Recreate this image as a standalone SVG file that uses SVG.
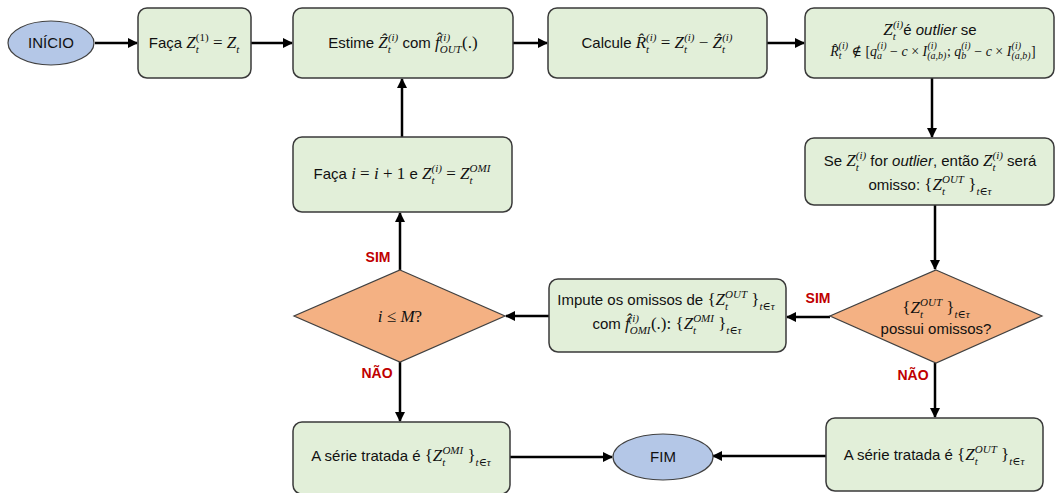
<svg xmlns="http://www.w3.org/2000/svg" width="1059" height="493" viewBox="0 0 1059 493">
<defs>
<marker id="ah" viewBox="0 0 10 10" refX="9" refY="5" markerWidth="4" markerHeight="4" orient="auto" markerUnits="strokeWidth">
<path d="M0,0 L10,5 L0,10 z" fill="#000"/>
</marker>
<style>
.box{fill:#e2efd9;stroke:#3a3a3a;stroke-width:1.5}
.dia{fill:#f4b183;stroke:#404040;stroke-width:1.2}
.ell{fill:#b4c7e7;stroke:#404040;stroke-width:1.2}
.t{font-family:"Liberation Sans",Arial,sans-serif;font-size:15px;fill:#111;text-anchor:middle}
.m{font-family:"Liberation Serif","DejaVu Serif",serif;font-style:italic;font-size:17px}
.r{font-family:"Liberation Serif","DejaVu Serif",serif;font-style:normal;font-size:17px}
.s{font-size:11px}
.i{font-style:italic}
.sm{font-size:14px}
.sm .r{font-size:14px}
.ss{font-size:10px}
.lbl{font-family:"Liberation Sans",Arial,sans-serif;font-weight:bold;font-size:14px;fill:#c00000;text-anchor:middle}
.c{fill:none;stroke:#000;stroke-width:2.5;marker-end:url(#ah)}
</style>
</defs>
<g id="connectors">
<line class="c" x1="95" y1="43" x2="137" y2="43"/>
<line class="c" x1="251" y1="43" x2="292" y2="43"/>
<line class="c" x1="513" y1="43" x2="547" y2="43"/>
<line class="c" x1="767" y1="43" x2="804" y2="43"/>
<line class="c" x1="932" y1="78" x2="932" y2="137"/>
<line class="c" x1="935" y1="205" x2="935" y2="269"/>
<line class="c" x1="830" y1="317" x2="787" y2="317"/>
<line class="c" x1="549" y1="316" x2="506" y2="316"/>
<line class="c" x1="400" y1="270" x2="400" y2="213"/>
<line class="c" x1="402" y1="137" x2="402" y2="79"/>
<line class="c" x1="400" y1="362" x2="400" y2="421"/>
<line class="c" x1="935" y1="363" x2="935" y2="417"/>
<line class="c" x1="826" y1="456" x2="713" y2="456"/>
<line class="c" x1="510" y1="457" x2="612" y2="457"/>
<text class="lbl" x="378" y="262">SIM</text>
<text class="lbl" x="377" y="378">NÃO</text>
<text class="lbl" x="818" y="303">SIM</text>
<text class="lbl" x="913" y="380">NÃO</text>
</g>
<g id="inicio">
<ellipse class="ell" cx="51" cy="43" rx="43" ry="22"/>
<text class="t" x="51" y="48">INÍCIO</text>
</g>
<g id="faca1">
<rect class="box" x="138" y="8" width="113" height="70" rx="9"/>
<text class="t" x="194" y="48">Faça <tspan class="m">Z</tspan><tspan class="m s" dy="5">t</tspan><tspan class="r s" dx="-3" dy="-12">(1)</tspan><tspan class="r" dy="7"> = </tspan><tspan class="m">Z</tspan><tspan class="m s" dy="5">t</tspan></text>
</g>
<g id="estime">
<rect class="box" x="293" y="8" width="220" height="70" rx="9"/>
<text class="t" x="403" y="48">Estime <tspan class="m">Ẑ</tspan><tspan class="m s" dy="5">t</tspan><tspan class="m s" dx="-3" dy="-12">(i)</tspan><tspan dy="7"> com </tspan><tspan class="m">f̂</tspan><tspan class="m s" dy="5">OUT</tspan><tspan class="m s" dx="-22" dy="-12">(i)</tspan><tspan class="r" dx="12" dy="7">(.)</tspan></text>
</g>
<g id="calcule">
<rect class="box" x="548" y="8" width="219" height="70" rx="9"/>
<text class="t" x="657" y="48">Calcule <tspan class="m">R̂</tspan><tspan class="m s" dy="5">t</tspan><tspan class="m s" dx="-3" dy="-12">(i)</tspan><tspan class="r" dy="7"> = </tspan><tspan class="m">Z</tspan><tspan class="m s" dy="5">t</tspan><tspan class="m s" dx="-3" dy="-12">(i)</tspan><tspan class="r" dy="7"> − </tspan><tspan class="m">Ẑ</tspan><tspan class="m s" dy="5">t</tspan><tspan class="m s" dx="-3" dy="-12">(i)</tspan></text>
</g>
<g id="outlier">
<rect class="box" x="805" y="8" width="249" height="70" rx="9"/>
<text class="t" x="930" y="35"><tspan class="m">Z</tspan><tspan class="m s" dy="5">t</tspan><tspan class="m s" dx="-3" dy="-12">(i)</tspan><tspan dy="7">é </tspan><tspan class="i">outlier</tspan> se</text>
<text class="t m sm" x="933" y="56">R̂<tspan class="ss" dy="3">t</tspan><tspan class="ss" dx="-3" dy="-10">(i)</tspan><tspan class="r" dy="7"> ∉ [</tspan>q<tspan class="ss" dy="3">a</tspan><tspan class="ss" dx="-5" dy="-10">(i)</tspan><tspan class="r" dy="7"> − </tspan>c<tspan class="r"> × </tspan>I<tspan class="ss" dy="3">(a,b)</tspan><tspan class="ss" dx="-19" dy="-10">(i)</tspan><tspan class="r" dx="10" dy="7">;   </tspan>q<tspan class="ss" dy="3">b</tspan><tspan class="ss" dx="-5" dy="-10">(i)</tspan><tspan class="r" dy="7"> − </tspan>c<tspan class="r"> × </tspan>I<tspan class="ss" dy="3">(a,b)</tspan><tspan class="ss" dx="-19" dy="-10">(i)</tspan><tspan class="r" dx="10" dy="7">]</tspan></text>
</g>
<g id="omisso">
<rect class="box" x="805" y="138" width="249" height="67" rx="9"/>
<text class="t" x="930" y="166">Se <tspan class="m">Z</tspan><tspan class="m s" dy="5">t</tspan><tspan class="m s" dx="-3" dy="-12">(i)</tspan><tspan dy="7"> for </tspan><tspan class="i">outlier</tspan>, então <tspan class="m">Z</tspan><tspan class="m s" dy="5">t</tspan><tspan class="m s" dx="-3" dy="-12">(i)</tspan><tspan dy="7"> será</tspan></text>
<text class="t" x="930" y="190">omisso: <tspan class="r">{</tspan><tspan class="m">Z</tspan><tspan class="m s" dy="5">t</tspan><tspan class="m s" dx="-3" dy="-12">OUT</tspan><tspan class="r" dy="7"> }</tspan><tspan class="m s" dy="5">t∈τ</tspan></text>
</g>
<g id="possui">
<polygon class="dia" points="936,270 1042,316 936,363 830,316"/>
<text class="t" x="936" y="313"><tspan class="r">{</tspan><tspan class="m">Z</tspan><tspan class="m s" dy="5">t</tspan><tspan class="m s" dx="-3" dy="-12">OUT</tspan><tspan class="r" dy="7"> }</tspan><tspan class="m s" dy="5">t∈τ</tspan></text>
<text class="t" x="936" y="334">possui omissos?</text>
</g>
<g id="impute">
<rect class="box" x="549" y="279" width="237" height="73" rx="9"/>
<text class="t" x="666" y="305">Impute os omissos de <tspan class="r">{</tspan><tspan class="m">Z</tspan><tspan class="m s" dy="5">t</tspan><tspan class="m s" dx="-3" dy="-12">OUT</tspan><tspan class="r" dy="7"> }</tspan><tspan class="m s" dy="5">t∈τ</tspan></text>
<text class="t" x="667" y="329">com <tspan class="m">f̂</tspan><tspan class="m s" dy="5">OMI</tspan><tspan class="m s" dx="-22" dy="-12">(i)</tspan><tspan class="r" dx="12" dy="7">(.): {</tspan><tspan class="m">Z</tspan><tspan class="m s" dy="5">t</tspan><tspan class="m s" dx="-3" dy="-12">OMI</tspan><tspan class="r" dy="7"> }</tspan><tspan class="m s" dy="5">t∈τ</tspan></text>
</g>
<g id="cond">
<polygon class="dia" points="400,270 505,316 400,362 294,316"/>
<text class="t m" x="400" y="322">i <tspan class="r">≤</tspan> M<tspan class="r">?</tspan></text>
</g>
<g id="incr">
<rect class="box" x="293" y="137" width="219" height="75" rx="9"/>
<text class="t" x="402" y="179">Faça <tspan class="m">i</tspan><tspan class="r"> = </tspan><tspan class="m">i</tspan><tspan class="r"> + 1 </tspan>e <tspan class="m">Z</tspan><tspan class="m s" dy="5">t</tspan><tspan class="m s" dx="-3" dy="-12">(i)</tspan><tspan class="r" dy="7"> = </tspan><tspan class="m">Z</tspan><tspan class="m s" dy="5">t</tspan><tspan class="m s" dx="-3" dy="-12">OMI</tspan></text>
</g>
<g id="serie-omi">
<rect class="box" x="293" y="422" width="217" height="72" rx="9"/>
<text class="t" x="401" y="461">A série tratada é <tspan class="r">{</tspan><tspan class="m">Z</tspan><tspan class="m s" dy="5">t</tspan><tspan class="m s" dx="-3" dy="-12">OMI</tspan><tspan class="r" dy="7"> }</tspan><tspan class="m s" dy="5">t∈τ</tspan></text>
</g>
<g id="fim">
<ellipse class="ell" cx="663" cy="457" rx="50" ry="23"/>
<text class="t" x="663" y="462">FIM</text>
</g>
<g id="serie-out">
<rect class="box" x="826" y="418" width="217" height="73" rx="9"/>
<text class="t" x="934" y="460">A série tratada é <tspan class="r">{</tspan><tspan class="m">Z</tspan><tspan class="m s" dy="5">t</tspan><tspan class="m s" dx="-3" dy="-12">OUT</tspan><tspan class="r" dy="7"> }</tspan><tspan class="m s" dy="5">t∈τ</tspan></text>
</g>
</svg>
